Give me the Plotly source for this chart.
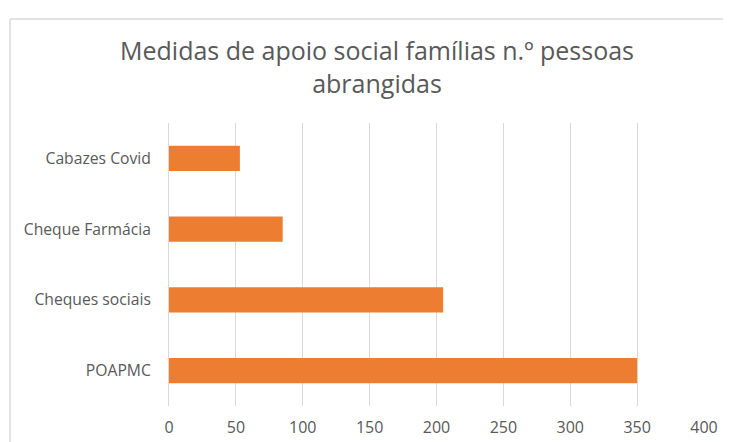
import plotly.graph_objects as go

categories = ["POAPMC", "Cheques sociais", "Cheque Farmácia", "Cabazes Covid"]
values = [350, 205, 85, 53]
x_ticks = [0, 50, 100, 150, 200, 250, 300, 350, 400]

# The page body has an 8px default margin; size the figure to fit the window.
OFF = 8
W, H = 731 - OFF, 442 - OFF
L, R, T, B = 169 - OFF, 27, 123 - OFF, 36
pw, ph = W - L - R, H - T - B

fig = go.Figure(go.Bar(
    x=values, y=categories, orientation="h",
    marker=dict(color="#ED7D31", line=dict(width=0)),
    hoverinfo="x+y",
))

font_family = "Open Sans, Noto Sans, sans-serif"
fig.update_layout(
    width=W, height=H,
    margin=dict(l=L, r=R, t=T, b=B, autoexpand=False),
    paper_bgcolor="white", plot_bgcolor="white",
    bargap=0.645,
    showlegend=False,
    title=dict(
        text="Medidas de apoio social famílias n.º pessoas<br>abrangidas",
        x=(377 - OFF) / W, xanchor="center", xref="container",
        y=1 - 52 / H, yanchor="middle", yref="container",
        font=dict(family=font_family, size=25, color="#595959"),
    ),
    font=dict(family=font_family, color="#595959"),
)
fig.update_xaxes(
    range=[0, 400], tickvals=x_ticks, ticktext=[str(v) for v in x_ticks],
    showgrid=True, gridcolor="#D9D9D9", gridwidth=1,
    zeroline=False, showline=False, ticks="",
    tickfont=dict(size=16, color="#595959", family=font_family),
    ticklabelstandoff=10, fixedrange=True, automargin=False,
)
fig.update_yaxes(
    showgrid=False, zeroline=False,
    showline=True, linecolor="#D9D9D9", linewidth=1,
    ticks="", tickfont=dict(size=15.7, color="#595959", family=font_family),
    ticklabelstandoff=14, fixedrange=True, automargin=False,
)

# cropped chart-area border (left and top edges only visible)
bx = (10 - OFF - L) / pw
by = (H - B - (19 - OFF)) / ph
fig.add_shape(type="line", xref="paper", yref="paper",
              x0=bx, x1=bx, y0=-1, y1=by, line=dict(color="#D9D9D9", width=1.5))
fig.add_shape(type="line", xref="paper", yref="paper",
              x0=bx, x1=2, y0=by, y1=by, line=dict(color="#D9D9D9", width=1.5))

fig.write_html("out.html", config={"displayModeBar": False})
